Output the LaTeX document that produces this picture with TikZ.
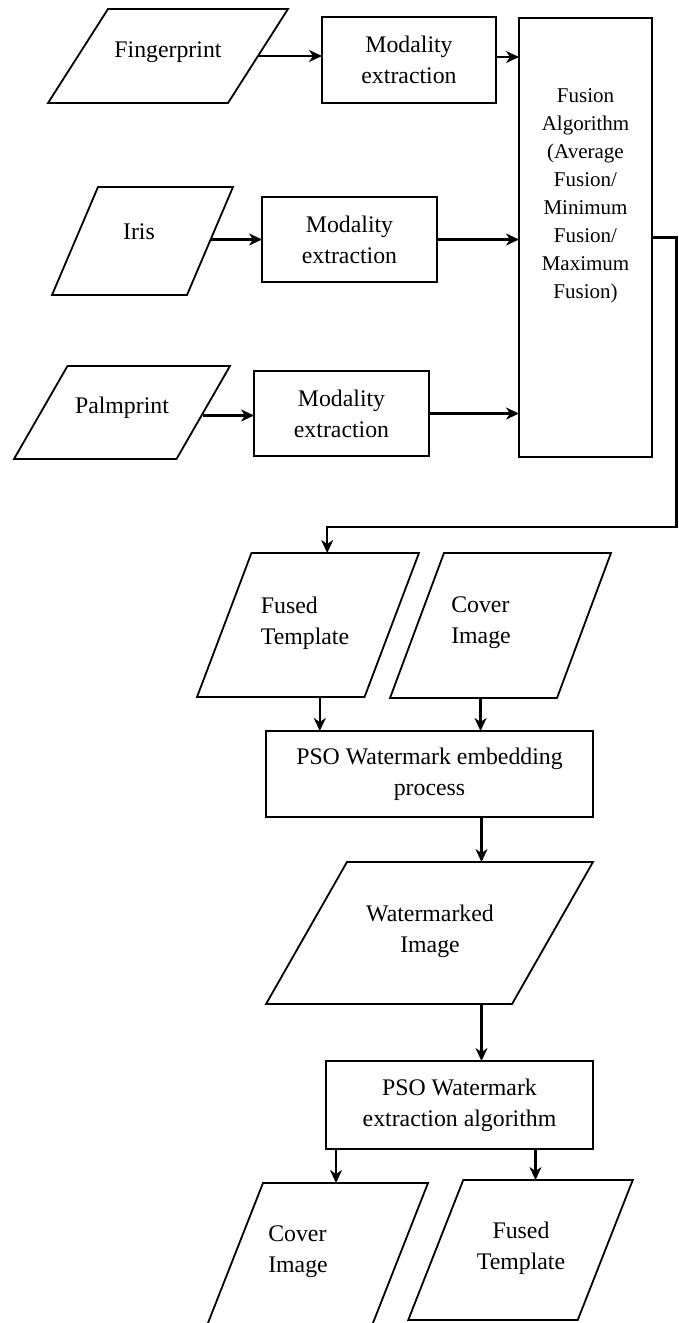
\documentclass[tikz,border=0pt]{standalone}
\usepackage{fontspec}
\setmainfont{Liberation Serif}
\usetikzlibrary{arrows.meta}
\begin{document}
\begin{tikzpicture}[x=1pt,y=-1pt,
  box/.style={draw, line width=1.8pt, inner sep=0pt, outer sep=0pt,
    font=\fontsize{23.8}{31}\selectfont, align=center},
  para/.style={draw, line width=1.8pt, inner sep=0pt, outer sep=0pt, xslant=#1},
  lbl/.style={inner sep=0pt, font=\fontsize{23.8}{31}\selectfont},
  arr/.style={line width=2.2pt, -{Stealth[length=13pt,width=12pt,inset=4pt]}}
]
\useasboundingbox (0,0) rectangle (678,1323);
\clip (0,0) rectangle (678,1323);

% input modalities
\node[para=0.638, minimum width=180pt, minimum height=94pt] (fp) at (168,56) {};
\node[para=0.426, minimum width=135pt, minimum height=108pt] (ir) at (142.5,241) {};
\node[para=0.575, minimum width=162.5pt, minimum height=93pt] (pp) at (122,412.5) {};
\node[lbl] (fptxt) at (168,52) {Fingerprint};
\node[lbl] (irtxt) at (139,232) {Iris};
\node[lbl] (pptxt) at (122,408) {Palmprint};

% extraction boxes
\node[box, minimum width=174pt, minimum height=86pt] (m1) at (409,60) {Modality\\extraction};
\node[box, minimum width=175pt, minimum height=85pt] (m2) at (349.5,239.5) {Modality\\extraction};
\node[box, minimum width=175pt, minimum height=85pt] (m3) at (341.5,413.5) {Modality\\extraction};

% fusion
\node[box, minimum width=133pt, minimum height=439pt] (fus) at (585.5,237.5) {};
\node[inner sep=0pt, font=\fontsize{21}{28}\selectfont, align=center] (fustxt) at (585.5,196)
  {Fusion\\Algorithm\\(Average\\Fusion/\\Minimum\\Fusion/\\Maximum\\Fusion)};

% embedding inputs
\node[para=0.378, minimum width=167.5pt, minimum height=144pt] (ft) at (308,625) {};
\node[para=0.372, minimum width=167pt, minimum height=145pt] (cv) at (500.5,625.5) {};
\node[lbl, align=left] (fttxt) at (305,623) {Fused\\Template};
\node[lbl, align=left] (cvtxt) at (481,623) {Cover\\Image};

\node[box, minimum width=327pt, minimum height=86pt] (emb) at (429.5,774) {PSO Watermark embedding\\process};

\node[para=0.570, minimum width=246pt, minimum height=142pt] (wm) at (429.5,933) {};
\node[lbl, align=center] (wmtxt) at (430,931) {Watermarked\\Image};

\node[box, minimum width=267pt, minimum height=88pt] (ext) at (459.5,1105) {PSO Watermark\\extraction algorithm};

% outputs
\node[para=0.393, minimum width=165pt, minimum height=145pt] (cv2) at (317,1255.5) {};
\node[para=0.393, minimum width=169.5pt, minimum height=140pt] (ft2) at (520.5,1250) {};
\node[lbl, align=left] (cv2txt) at (298,1252) {Cover\\Image};
\node[lbl, align=center] (ft2txt) at (521,1248) {Fused\\Template};

% connectors
\draw[arr] (fp.east) -- (fp.east -| m1.west);
\draw[arr] ([yshift=3pt]m1.east) -- ([yshift=3pt]m1.east -| fus.west);
\draw[arr] (m2.west -| ir.east) -- (m2.west);
\draw[arr] (m2.east) -- (m2.east -| fus.west);
\draw[arr] ([yshift=-3pt]pp.east) -- ([yshift=-3pt]pp.east -| m3.west);
\draw[arr] (m3.east) -- (m3.east -| fus.west);

\coordinate (rail) at (676.5,527);
\coordinate (ftin) at ([xshift=-8pt]ft.north);
\draw[arr] (fus.east) -- (fus.east -| rail) -- (rail) -- (rail -| ftin) -- (ftin);

\draw[arr] ([xshift=39pt]ft.south) -- ([xshift=39pt]ft.south |- emb.north);
\draw[arr] ([xshift=7pt]cv.south) -- ([xshift=7pt]cv.south |- emb.north);
\draw[arr] ([xshift=52pt]emb.south) -- ([xshift=52pt]emb.south |- wm.north);
\draw[arr] ([xshift=22pt]ext.north |- wm.south) -- ([xshift=22pt]ext.north);
\draw[arr] ([xshift=-123.5pt]ext.south) -- ([xshift=-123.5pt]ext.south |- cv2.north);
\draw[arr] ([xshift=76pt]ext.south) -- ([xshift=76pt]ext.south |- ft2.north);
\end{tikzpicture}
\end{document}
